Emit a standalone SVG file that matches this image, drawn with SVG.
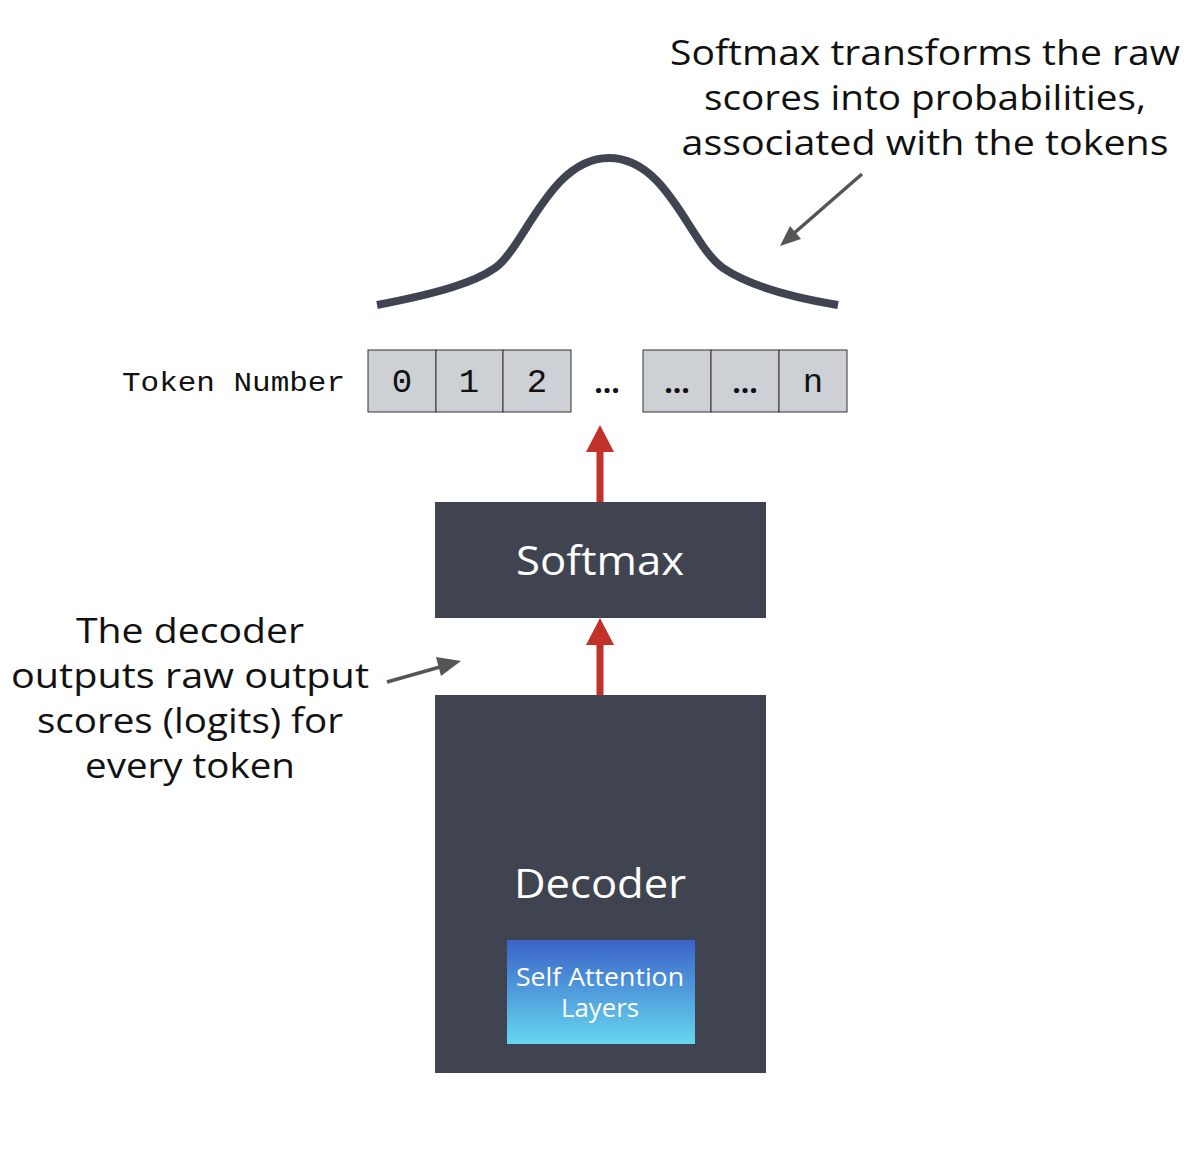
<svg xmlns="http://www.w3.org/2000/svg" width="1200" height="1152" viewBox="0 0 1200 1152">
<style>
.lbl{font-family:"Open Sans","Noto Sans",sans-serif;font-size:35px;fill:#111;text-anchor:middle}
.box{fill:#3f4450}
.wt{font-family:"Open Sans","Noto Sans",sans-serif;fill:#fff;text-anchor:middle}
.tok{fill:#cdd0d5;stroke:#333;stroke-width:1}
.mono{font-family:"Liberation Mono","DejaVu Sans Mono",monospace;fill:#111}
.red{stroke:#c0322a;stroke-width:7;fill:none}
.gray{stroke:#555;stroke-width:3.5;fill:none}
</style>
<defs>
<linearGradient id="g" x1="0" y1="0" x2="0" y2="1">
<stop offset="0" stop-color="#3b63c8"/>
<stop offset="1" stop-color="#66d6ef"/>
</linearGradient>
</defs>
<rect width="1200" height="1152" fill="#fff"/>
<g id="note-top">
<text class="lbl" x="925" y="65" textLength="510" lengthAdjust="spacingAndGlyphs">Softmax transforms the raw</text>
<text class="lbl" x="925" y="110" textLength="442" lengthAdjust="spacingAndGlyphs">scores into probabilities,</text>
<text class="lbl" x="925" y="155" textLength="487" lengthAdjust="spacingAndGlyphs">associated with the tokens</text>
</g>
<g id="note-left">
<text class="lbl" x="190" y="643" textLength="228" lengthAdjust="spacingAndGlyphs">The decoder</text>
<text class="lbl" x="190" y="688" textLength="358" lengthAdjust="spacingAndGlyphs">outputs raw output</text>
<text class="lbl" x="190" y="733" textLength="306" lengthAdjust="spacingAndGlyphs">scores (logits) for</text>
<text class="lbl" x="190" y="778" textLength="210" lengthAdjust="spacingAndGlyphs">every token</text>
</g>
<g id="curve">
<path d="M377,305 C440,293 475,282 495,268 C525,247 550,158 609,158 C668,158 690,245 723,268 C748,285 790,297 838,305" fill="none" stroke="#3f4450" stroke-width="8"/>
</g>
<g id="tokens">
<text class="mono" x="122" y="391" font-size="27" textLength="223" lengthAdjust="spacingAndGlyphs">Token Number</text>
<rect class="tok" x="368" y="350" width="68" height="62"/>
<rect class="tok" x="436" y="350" width="67" height="62"/>
<rect class="tok" x="503" y="350" width="68" height="62"/>
<rect class="tok" x="643" y="350" width="68" height="62"/>
<rect class="tok" x="711" y="350" width="68" height="62"/>
<rect class="tok" x="779" y="350" width="68" height="62"/>
<g class="mono" font-size="34" text-anchor="middle">
<text x="402" y="392">0</text>
<text x="469" y="392">1</text>
<text x="537" y="392">2</text>
<text x="813" y="392">n</text>
</g>
<g font-family="Open Sans,sans-serif" font-size="30" font-weight="bold" fill="#111" text-anchor="middle">
<text x="607" y="393">...</text>
<text x="677" y="393">...</text>
<text x="745" y="393">...</text>
</g>
</g>
<g id="softmax">
<rect class="box" x="435" y="502" width="331" height="116"/>
<text class="wt" x="600" y="575" font-size="40" textLength="168" lengthAdjust="spacingAndGlyphs">Softmax</text>
</g>
<g id="decoder">
<rect class="box" x="435" y="695" width="331" height="378"/>
<text class="wt" x="600" y="898" font-size="40" textLength="172" lengthAdjust="spacingAndGlyphs">Decoder</text>
<g id="self-attention">
<rect x="507" y="940" width="188" height="104" fill="url(#g)"/>
<text class="wt" x="600" y="986" font-size="25" textLength="168" lengthAdjust="spacingAndGlyphs">Self Attention</text>
<text class="wt" x="600" y="1017" font-size="25" textLength="78" lengthAdjust="spacingAndGlyphs">Layers</text>
</g>
</g>
<g id="connectors">
<line class="red" x1="600" y1="502" x2="600" y2="450"/>
<polygon points="600,425 614,452 586,452" fill="#c0322a"/>
<line class="red" x1="600" y1="695" x2="600" y2="643"/>
<polygon points="600,618 614,645 586,645" fill="#c0322a"/>
<line class="gray" x1="387" y1="682" x2="447" y2="665"/>
<polygon points="461,661 441,676 436,657" fill="#555"/>
<line class="gray" x1="862" y1="174" x2="792" y2="235"/>
<polygon points="780,246 790,226 801,239" fill="#555"/>
</g>
</svg>
